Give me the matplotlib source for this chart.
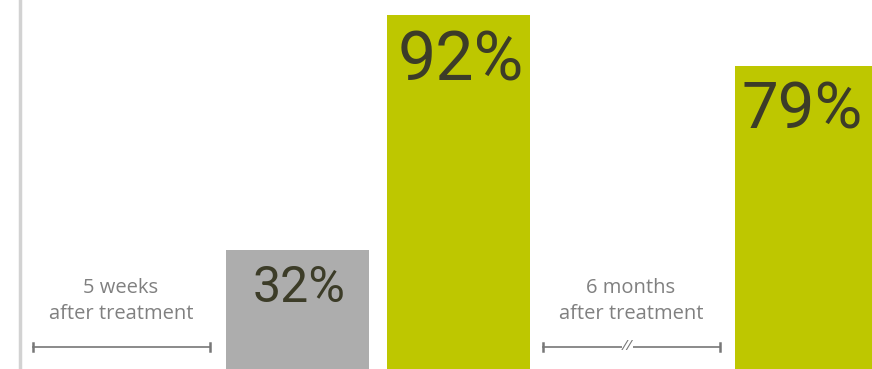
import matplotlib.pyplot as plt

# values (percent)
labels = ["32%", "92%", "79%"]
values = [32, 92, 79]
colors = ["#adadad", "#bec700", "#bec700"]
periods = ["5 weeks\nafter treatment", "6 months\nafter treatment"]

# bar layout (x in pixel-like units of the 872 px wide crop)
xpos = [297, 458, 806]
width = 143

W, H = 872, 369
fig = plt.figure(figsize=(W / 100, H / 100), dpi=100)
ax = fig.add_axes([0, 0, 1, 1])
ax.set_xlim(0, W)
ax.set_ylim(1.5, 95.8)
ax.axis('off')

ax.bar(xpos, values, width=width, color=colors, lw=0)

# value labels at the top of each bar
big = ['Roboto', 'DejaVu Sans']
small = ['Open Sans', 'DejaVu Sans']
sizes = [36, 49, 47]
centers = [299, 461, 802]
for x, v, lab, s in zip(centers, values, labels, sizes):
    ax.text(x, v - 3.6, lab, ha='center', va='top', fontsize=s,
            color='#3c3c28', family=big)

# left axis line
ax.axvline(20, color='#d2d2d2', lw=2.5)

# period captions with brackets (placed in pixel coords of the crop)
def px(x, y):
    return x / W, 1 - y / H

for cx, txt, x0, x1, brk in [(121, periods[0], 33, 210, False),
                             (631, periods[1], 543, 720, True)]:
    fig.text(*px(cx, 301), txt, ha='center', va='center', fontsize=14.5,
             color='#808080', family=small, linespacing=1.35)
    bx0, by = px(x0, 347)
    bx1, _ = px(x1, 347)
    fig.add_artist(plt.Line2D([bx0, bx1], [by, by], color='#777777', lw=1.2))
    for bx in (bx0, bx1):
        fig.add_artist(plt.Line2D([bx, bx], [by - 4 / H, by + 4 / H],
                                  color='#777777', lw=1.8))
    if brk:
        fig.text((bx0 + bx1) / 2 - 4 / W, by, "//", ha='center', va='center',
                 fontsize=11, color='#777777', family=small, style='italic',
                 bbox=dict(fc='white', ec='none', pad=0.3))

plt.savefig("out.png", dpi=100)
